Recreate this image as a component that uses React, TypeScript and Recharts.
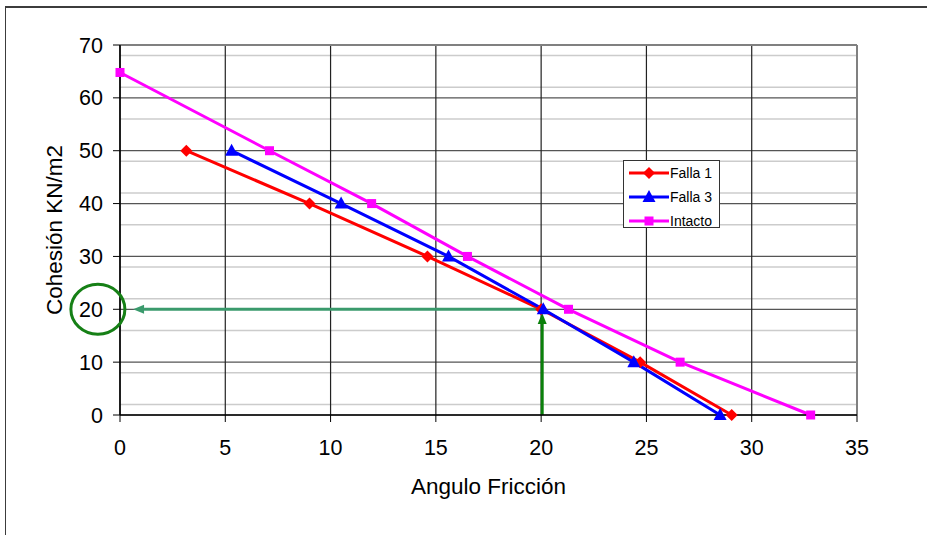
import React from 'react';
import {
  CartesianGrid,
  Label,
  Legend,
  Line,
  LineChart,
  ReferenceDot,
  ReferenceLine,
  XAxis,
  YAxis,
} from 'recharts';

// friction angle (x) vs cohesion (y) for each case
const falla1 = [
  { x: 3.15, y: 50 },
  { x: 9.0, y: 40 },
  { x: 14.6, y: 30 },
  { x: 20.0, y: 20 },
  { x: 24.7, y: 10 },
  { x: 29.05, y: 0 },
];
const falla3 = [
  { x: 5.3, y: 50 },
  { x: 10.5, y: 40 },
  { x: 15.6, y: 30 },
  { x: 20.1, y: 20 },
  { x: 24.4, y: 10 },
  { x: 28.5, y: 0 },
];
const intacto = [
  { x: 0, y: 64.8 },
  { x: 7.1, y: 50 },
  { x: 11.95, y: 40 },
  { x: 16.5, y: 30 },
  { x: 21.3, y: 20 },
  { x: 26.6, y: 10 },
  { x: 32.8, y: 0 },
];

const xTicks = [0, 5, 10, 15, 20, 25, 30, 35];
const yTicks = [0, 10, 20, 30, 40, 50, 60, 70];
const yMinor = [2, 4, 6, 8, 12, 14, 16, 18, 22, 24, 26, 28, 32, 34, 36, 38, 42, 44, 46, 48, 52, 54, 56, 58, 62, 64, 66, 68];

// reading of the 20 kN/m2 cohesion at 20 degrees
const readAngle = 20.05;
const readCohesion = 20;
const arrowLeftEnd = 0.62;
const arrowUpEnd = 19.3;
const circleAt = { x: -1.05, y: 20 };

const series = [
  { name: 'Falla 1', color: '#ff0000', marker: 'diamond', data: falla1 },
  { name: 'Falla 3', color: '#0000ff', marker: 'triangle', data: falla3 },
  { name: 'Intacto', color: '#ff00ff', marker: 'square', data: intacto },
];

const FONT = '"Liberation Sans", Arial, sans-serif';

function marker(kind: string, cx: number, cy: number, color: string, key?: string | number) {
  if (kind === 'diamond') {
    return (
      <polygon key={key} points={`${cx},${cy - 6} ${cx + 6},${cy} ${cx},${cy + 6} ${cx - 6},${cy}`} fill={color} />
    );
  }
  if (kind === 'triangle') {
    return (
      <polygon key={key} points={`${cx},${cy - 7} ${cx + 6.5},${cy + 5} ${cx - 6.5},${cy + 5}`} fill={color} />
    );
  }
  return <rect key={key} x={cx - 4.5} y={cy - 4.5} width={9} height={9} fill={color} />;
}

function arrowShape(color: string) {
  return (p: any) => {
    const { x1, y1, x2, y2 } = p;
    const dx = x2 - x1;
    const dy = y2 - y1;
    const len = Math.sqrt(dx * dx + dy * dy) || 1;
    const ux = dx / len;
    const uy = dy / len;
    const head = 11;
    const half = 4.5;
    const bx = x2 - ux * head;
    const by = y2 - uy * head;
    return (
      <g>
        <line x1={x1} y1={y1} x2={bx} y2={by} stroke={color} strokeWidth={3} />
        <polygon
          points={`${x2},${y2} ${bx - uy * half},${by + ux * half} ${bx + uy * half},${by - ux * half}`}
          fill={color}
        />
      </g>
    );
  };
}

function LegendBox() {
  return (
    <div
      style={{
        width: 97,
        height: 68,
        border: '1px solid #333',
        background: '#fff',
        fontFamily: FONT,
        fontSize: 14,
        boxSizing: 'border-box',
      }}
    >
      {series.map((s, i) => (
        <div key={s.name} style={{ position: 'absolute', left: 0, top: 4 + i * 24, height: 18, width: 97 }}>
          <svg width={46} height={18} style={{ position: 'absolute', left: 4, top: 0 }}>
            <line x1={2} y1={9} x2={42} y2={9} stroke={s.color} strokeWidth={3} />
            {marker(s.marker, 22, 9, s.color)}
          </svg>
          <span style={{ position: 'absolute', left: 47, top: 0, lineHeight: '18px' }}>{s.name}</span>
        </div>
      ))}
    </div>
  );
}

export default function App() {
  return (
    <div style={{ position: 'absolute', left: 0, top: 0, width: 927, height: 535, background: '#fff', overflow: 'hidden' }}>
      <div
        style={{
          position: 'absolute',
          left: 5,
          top: 6,
          width: 940,
          height: 560,
          borderTop: '2px solid #3c3c3c',
          borderLeft: '1px solid #3c3c3c',
        }}
      />
      <LineChart
        width={927}
        height={535}
        margin={{ top: 45, right: 70, bottom: 30, left: 40 }}
        style={{ position: 'absolute', left: 0, top: 0, fontFamily: FONT }}
      >
        <CartesianGrid horizontalValues={yMinor} vertical={false} stroke="#cccccc" strokeWidth={1.6} />
        <CartesianGrid horizontalValues={yTicks} verticalValues={[]} vertical={false} stroke="#555" strokeWidth={1.2} />
        <CartesianGrid horizontal={false} verticalValues={xTicks} stroke="#222" strokeWidth={1.2} />
        <ReferenceLine y={70} stroke="#808080" strokeWidth={2} />
        <ReferenceLine x={35} stroke="#808080" strokeWidth={2} />
        <XAxis
          type="number"
          dataKey="x"
          domain={[0, 35]}
          ticks={xTicks}
          allowDuplicatedCategory={false}
          height={90}
          tickSize={7}
          tickMargin={18}
          stroke="#000"
          axisLine={{ stroke: '#000', strokeWidth: 1.5 }}
          tick={{ fill: '#000', fontSize: 21.5 }}
        >
          <Label value="Angulo Fricción" position="insideBottom" offset={11} fill="#000" fontSize={22.5} />
        </XAxis>
        <YAxis
          type="number"
          dataKey="y"
          domain={[0, 70]}
          ticks={yTicks}
          width={80}
          tickSize={7}
          tickMargin={10}
          stroke="#000"
          axisLine={{ stroke: '#000', strokeWidth: 1.5 }}
          tick={{ fill: '#000', fontSize: 21.5 }}
        >
          <Label
            value="Cohesión KN/m2"
            position="insideLeft"
            offset={14}
            angle={-90}
            fill="#000"
            fontSize={22.5}
            style={{ textAnchor: 'middle' }}
          />
        </YAxis>
        {series.map((s) => (
          <Line
            key={s.name}
            data={s.data}
            dataKey="y"
            name={s.name}
            stroke={s.color}
            strokeWidth={3}
            isAnimationActive={false}
            dot={(p: any) => marker(s.marker, p.cx, p.cy, s.color, p.index)}
            activeDot={false}
          />
        ))}
        <ReferenceLine
          segment={[
            { x: readAngle - 0.05, y: readCohesion },
            { x: arrowLeftEnd, y: readCohesion },
          ]}
          shape={arrowShape('#3a9a6c')}
        />
        <ReferenceLine
          segment={[
            { x: readAngle, y: 0 },
            { x: readAngle, y: arrowUpEnd },
          ]}
          shape={arrowShape('#0b800b')}
        />
        <ReferenceDot
          x={circleAt.x}
          y={circleAt.y}
          ifOverflow="visible"
          shape={(p: any) => (
            <ellipse cx={p.cx} cy={p.cy} rx={27} ry={25} fill="none" stroke="#168016" strokeWidth={3} />
          )}
        />
        <Legend
          layout="horizontal"
          verticalAlign="middle"
          align="center"
          wrapperStyle={{ left: 623, top: 160, width: 97, height: 68 }}
          content={() => <LegendBox />}
        />
      </LineChart>
    </div>
  );
}
